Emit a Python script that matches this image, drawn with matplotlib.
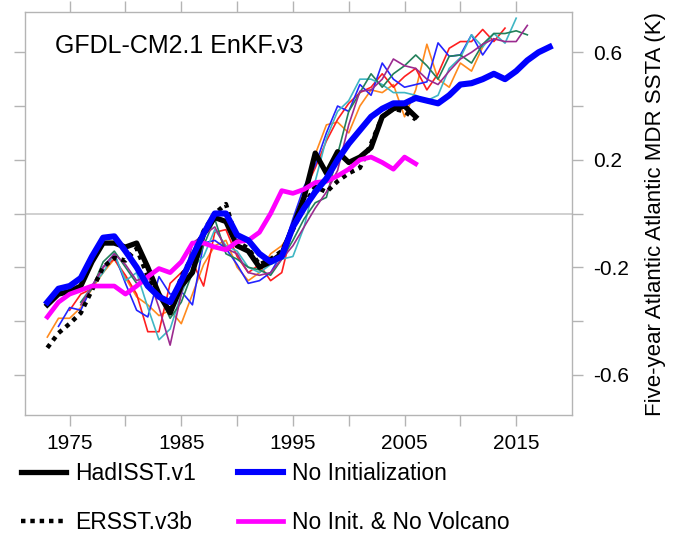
import matplotlib
matplotlib.use('Agg')
import matplotlib.pyplot as plt
import numpy as np

# observations
had_years = list(range(1973, 2007))
had_vals = [-0.34, -0.30, -0.29, -0.27, -0.18, -0.11, -0.11, -0.125, -0.11, -0.20,
            -0.30, -0.37, -0.27, -0.22, -0.075, -0.015, -0.03, -0.12, -0.14, -0.20,
            -0.18, -0.15, -0.05, 0.06, 0.225, 0.15, 0.23, 0.19, 0.21, 0.245,
            0.36, 0.39, 0.40, 0.36]

ers_years = list(range(1973, 2007))
ers_vals = [-0.50, -0.445, -0.41, -0.37, -0.285, -0.20, -0.165, -0.175, -0.13, -0.235,
            -0.30, -0.365, -0.235, -0.16, -0.065, 0.0, 0.035, -0.105, -0.13, -0.19,
            -0.17, -0.14, -0.06, 0.03, 0.10, 0.08, 0.12, 0.15, 0.17, 0.26,
            0.36, 0.39, 0.38, 0.35]

# model runs without initialization
noinit_years = list(range(1973, 2019))
noinit_vals = [-0.33, -0.28, -0.27, -0.24, -0.16, -0.09, -0.085, -0.14, -0.20, -0.27,
               -0.31, -0.33, -0.25, -0.16, -0.075, 0.0, 0.0, -0.08, -0.10, -0.15,
               -0.18, -0.16, -0.05, 0.02, 0.08, 0.13, 0.20, 0.26, 0.31, 0.36,
               0.39, 0.41, 0.41, 0.43, 0.42, 0.41, 0.44, 0.48, 0.485, 0.50,
               0.52, 0.50, 0.53, 0.57, 0.60, 0.62]

novolc_years = list(range(1973, 2007))
novolc_vals = [-0.385, -0.33, -0.30, -0.285, -0.27, -0.27, -0.27, -0.30, -0.27, -0.235,
               -0.205, -0.22, -0.18, -0.11, -0.11, -0.125, -0.135, -0.105, -0.10, -0.07,
               0.0, 0.085, 0.075, 0.09, 0.115, 0.12, 0.14, 0.165, 0.20, 0.21,
               0.19, 0.165, 0.21, 0.185]

# initialized ensemble members (thin lines)
orange_start = 1973
orange_vals = [-0.46, -0.39, -0.39, -0.35, -0.28, -0.22, -0.17, -0.24, -0.31, -0.34,
               -0.38, -0.36, -0.41, -0.30, -0.19, -0.12, -0.10, -0.20, -0.25, -0.22,
               -0.15, -0.12, -0.06, 0.05, 0.22, 0.33, 0.34, 0.30, 0.40, 0.46,
               0.45, 0.48, 0.36, 0.46, 0.63, 0.50, 0.47, 0.56, 0.53, 0.62]

red_start = 1975
red_vals = [-0.36, -0.30, -0.28, -0.20, -0.17, -0.23, -0.30, -0.44, -0.44, -0.26,
            -0.22, -0.18, -0.27, -0.07, -0.06, -0.16, -0.22, -0.19, -0.25, -0.22,
            -0.05, 0.08, 0.17, 0.27, 0.35, 0.41, 0.45, 0.47, 0.52, 0.47,
            0.51, 0.54, 0.46, 0.52, 0.615, 0.64, 0.64, 0.685, 0.64, 0.69]

blue_start = 1974
blue_vals = [-0.42, -0.35, -0.36, -0.27, -0.20, -0.15, -0.26, -0.36, -0.385, -0.235,
             -0.30, -0.29, -0.34, -0.11, -0.10, -0.13, -0.19, -0.26, -0.25, -0.22,
             -0.15, -0.02, 0.10, 0.18, 0.30, 0.40, 0.38, 0.48, 0.44, 0.56,
             0.50, 0.47, 0.48, 0.49, 0.635, 0.585, 0.59, 0.665, 0.59, 0.65]

cyan_start = 1976
cyan_vals = [-0.33, -0.27, -0.22, -0.15, -0.25, -0.22, -0.35, -0.47, -0.43, -0.30,
             -0.20, -0.16, -0.06, -0.12, -0.14, -0.20, -0.22, -0.19, -0.17, -0.16,
             -0.05, 0.12, 0.28, 0.38, 0.42, 0.50, 0.50, 0.48, 0.45, 0.45,
             0.44, 0.42, 0.44, 0.54, 0.58, 0.665, 0.62, 0.67, 0.634, 0.727]

green_start = 1976
green_vals = [-0.33, -0.28, -0.18, -0.14, -0.20, -0.26, -0.26, -0.30, -0.39, -0.33,
              -0.22, -0.12, -0.02, -0.15, -0.17, -0.20, -0.21, -0.23, -0.17, -0.10,
              -0.02, 0.04, 0.06, 0.22, 0.38, 0.45, 0.52, 0.47, 0.52, 0.55,
              0.59, 0.55, 0.50, 0.585, 0.59, 0.56, 0.63, 0.67, 0.67, 0.68, 0.665]

purple_start = 1976
purple_vals = [-0.34, -0.27, -0.20, -0.15, -0.19, -0.25, -0.23, -0.35, -0.49, -0.30,
               -0.11, -0.08, -0.05, -0.13, -0.15, -0.22, -0.23, -0.22, -0.17, -0.12,
               -0.05, 0.02, 0.08, 0.16, 0.33, 0.455, 0.46, 0.50, 0.575, 0.55,
               0.54, 0.50, 0.48, 0.53, 0.575, 0.60, 0.63, 0.65, 0.64, 0.64, 0.70]

members = [
    (orange_start, orange_vals, '#ff8a1e'),
    (red_start, red_vals, '#ff1f1f'),
    (blue_start, blue_vals, '#2424ff'),
    (cyan_start, cyan_vals, '#3fb6c4'),
    (green_start, green_vals, '#23805a'),
    (purple_start, purple_vals, '#9b2a8f'),
]

plt.rcParams['font.family'] = ['Liberation Sans', 'DejaVu Sans']

fig = plt.figure(figsize=(6.78, 5.38), dpi=100)
ax = fig.add_axes([25 / 678, 1 - 415 / 538, (572 - 25) / 678, (415 - 12) / 538])

# thin ensemble lines
for start, vals, col in members:
    yrs = np.arange(start, start + len(vals))
    ax.plot(yrs, vals, color=col, lw=1.2, zorder=2)

ax.axhline(0, color='#c8c8c8', lw=1.2, zorder=1)

ax.plot(ers_years, ers_vals, color='black', lw=3.2, linestyle=(0, (1, 1.1)), zorder=3,
        label='ERSST.v3b')
ax.plot(had_years, had_vals, color='black', lw=3.8, zorder=4, label='HadISST.v1')
ax.plot(novolc_years, novolc_vals, color='#ff00ff', lw=3.4, zorder=5,
        label='No Init. & No Volcano')
ax.plot(noinit_years, noinit_vals, color='#0000ff', lw=4.4, zorder=6,
        label='No Initialization')

ax.set_xlim(1971, 2020)
ax.set_ylim(-0.75, 0.75)

ax.set_xticks([1975, 1985, 1995, 2005, 2015])
ax.set_xticks([1980, 1990, 2000, 2010], minor=True)
ax.set_yticks([-0.6, -0.2, 0.2, 0.6])
ax.set_yticks([-0.4, 0.0, 0.4], minor=True)
ax.set_yticklabels(['-0.6', '-0.2', '0.2', '0.6'])

ax.tick_params(axis='both', which='both', direction='out', length=8, width=1,
               color='#b4b4b4', labelsize=15)
ax.tick_params(axis='x', which='both', top=True, bottom=True, labeltop=False, pad=6)
ax.tick_params(axis='y', which='both', left=True, right=True, labelleft=False,
               labelright=True, pad=7)

for sp in ax.spines.values():
    sp.set_color('#b4b4b4')
    sp.set_linewidth(1)

ax.yaxis.set_label_position('right')
ax.set_ylabel('Five-year Atlantic Atlantic MDR SSTA (K)', fontsize=16, labelpad=12)

ax.text(30 / 547, 0.915, 'GFDL-CM2.1 EnKF.v3', transform=ax.transAxes,
        fontsize=18, va='center', ha='left')

# legend below the axes
h, l = ax.get_legend_handles_labels()
order = [1, 0, 3, 2]
fig.legend([h[i] for i in order], [l[i] for i in order], ncol=2, frameon=False,
           loc='upper left', bbox_to_anchor=(21 / 678, 1 - 462 / 538),
           borderpad=0, borderaxespad=0, handlelength=1.95, handletextpad=0.4,
           columnspacing=1.85, labelspacing=1.15, fontsize=16.5)

fig.savefig('out.png', dpi=100)
